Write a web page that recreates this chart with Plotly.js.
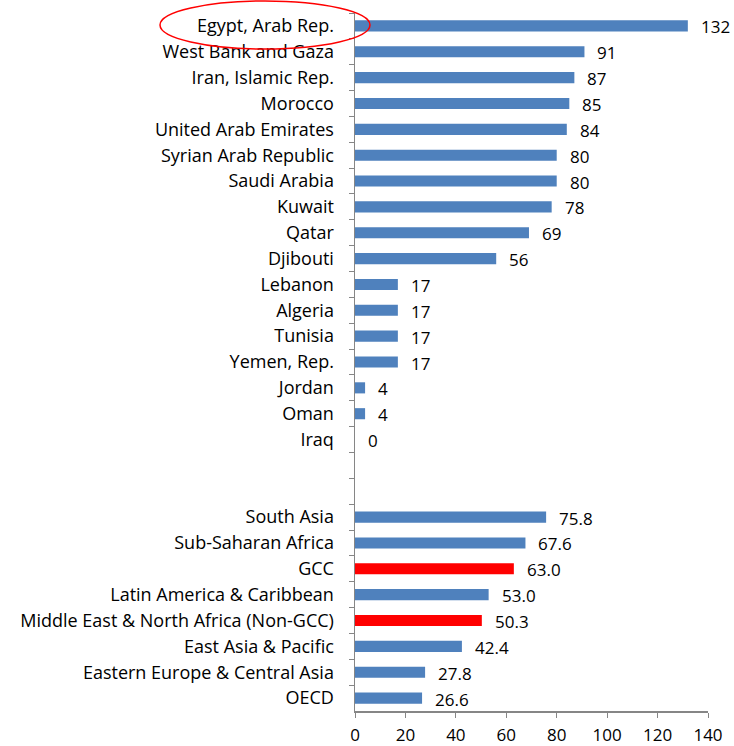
<!DOCTYPE html>
<html>
<head>
<meta charset="utf-8">
<script src="https://cdn.plot.ly/plotly-3.0.1.min.js"></script>
<style>html,body{margin:0;padding:0;background:#fff;}</style>
</head>
<body>
<div id="chart" style="width:734px;height:746px;"></div>
<script>
const categories = [
  "Egypt, Arab Rep.", "West Bank and Gaza", "Iran, Islamic Rep.", "Morocco",
  "United Arab Emirates", "Syrian Arab Republic", "Saudi Arabia", "Kuwait",
  "Qatar", "Djibouti", "Lebanon", "Algeria", "Tunisia", "Yemen, Rep.",
  "Jordan", "Oman", "Iraq", " ", "  ",
  "South Asia", "Sub-Saharan Africa", "GCC", "Latin America & Caribbean",
  "Middle East & North Africa (Non-GCC)", "East Asia & Pacific",
  "Eastern Europe & Central Asia", "OECD"
];
const values = [132, 91, 87, 85, 84, 80, 80, 78, 69, 56, 17, 17, 17, 17, 4, 4, 0, null, null,
  75.8, 67.6, 63.0, 53.0, 50.3, 42.4, 27.8, 26.6];
const valueLabels = ["132", "91", "87", "85", "84", "80", "80", "78", "69", "56", "17", "17", "17", "17", "4", "4", "0", "", "",
  "75.8", "67.6", "63.0", "53.0", "50.3", "42.4", "27.8", "26.6"];
const highlighted = ["GCC", "Middle East & North Africa (Non-GCC)"];
const xTicks = [0, 20, 40, 60, 80, 100, 120, 140];

const colors = categories.map(c => highlighted.includes(c) ? "#FF0000" : "#4F81BD");
const font = "'Open Sans', Lato, sans-serif";

const trace = {
  type: "bar",
  orientation: "h",
  y: categories,
  x: values,
  marker: {color: colors},
  hoverinfo: "skip"
};

const annotations = [];
categories.forEach((c, i) => {
  if (values[i] === null) return;
  annotations.push({
    x: values[i], y: c, xref: "x", yref: "y",
    text: valueLabels[i], showarrow: false,
    xanchor: "left", yanchor: "middle", xshift: 11, yshift: -1,
    font: {family: font, size: 17, color: "#000"}
  });
});

const layout = {
  width: 734, height: 746,
  margin: {l: 355, r: 26, t: 13, b: 35},
  paper_bgcolor: "#fff", plot_bgcolor: "#fff",
  showlegend: false,
  bargap: 0.57,
  font: {family: font, size: 15, color: "#000"},
  xaxis: {
    range: [0, 140], tickvals: xTicks, ticktext: xTicks.map(String),
    showgrid: false, zeroline: false,
    showline: true, linecolor: "#868686", linewidth: 1.5,
    ticks: "outside", ticklen: 5, tickcolor: "#868686", tickwidth: 1,
    ticklabelstandoff: 3,
    tickfont: {family: font, size: 17, color: "#000"},
    fixedrange: true
  },
  yaxis: {
    type: "category", categoryorder: "array", categoryarray: categories,
    range: [categories.length - 0.5, -0.5],
    showgrid: false, zeroline: false,
    showline: true, linecolor: "#868686", linewidth: 1.5,
    ticks: "outside", tickson: "boundaries", ticklen: 5, tickcolor: "#868686", tickwidth: 1,
    ticklabelstandoff: 16,
    tickfont: {family: font, size: 18, color: "#000"},
    fixedrange: true
  },
  annotations: annotations,
  shapes: [{
    type: "circle", xref: "paper", yref: "paper",
    x0: (160 - 355) / 353, x1: (370 - 355) / 353,
    y0: (711 - 49) / 698, y1: (711 - 1) / 698,
    line: {color: "#FF0000", width: 1.5}
  }]
};

Plotly.newPlot("chart", [trace], layout, {displayModeBar: false, staticPlot: true});
</script>
</body>
</html>
